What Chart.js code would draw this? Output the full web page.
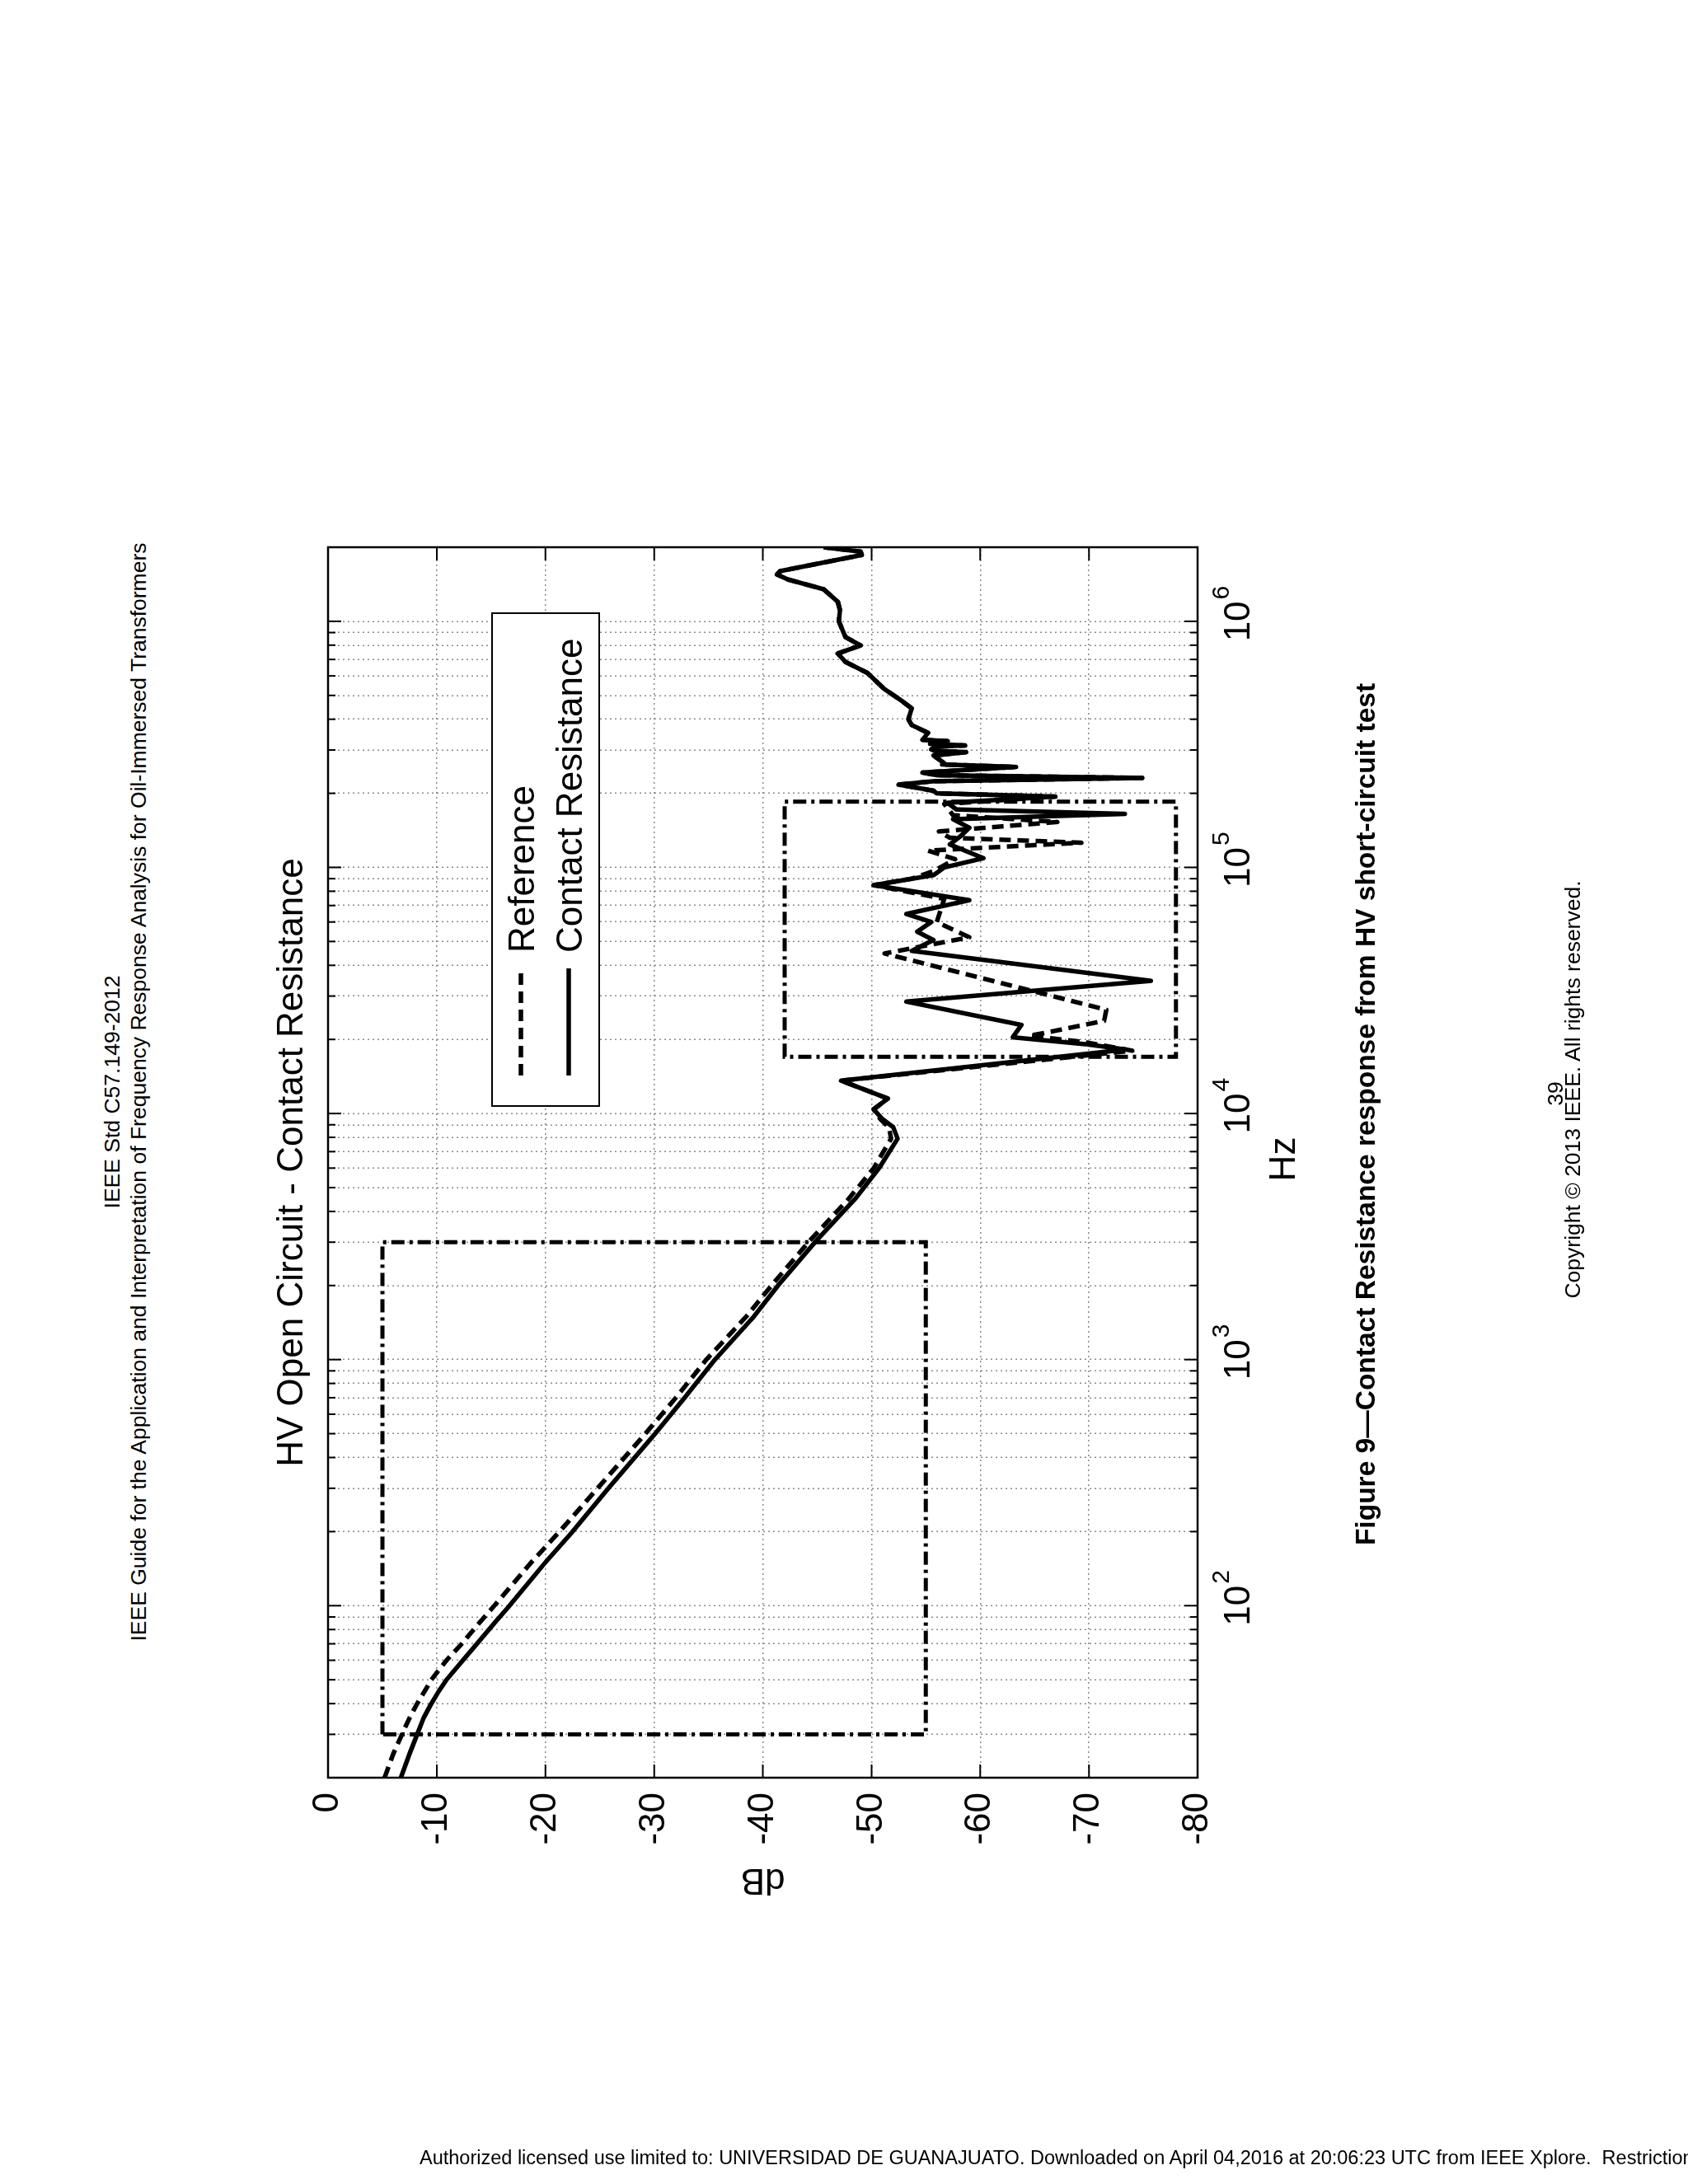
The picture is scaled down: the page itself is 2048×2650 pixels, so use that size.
<!DOCTYPE html>
<html>
<head>
<meta charset="utf-8">
<title>HV Open Circuit - Contact Resistance</title>
<script src="https://cdn.jsdelivr.net/npm/chart.js@4.4.1/dist/chart.umd.min.js"></script>
<style>
  html, body { margin: 0; padding: 0; background: #fff; }
  body { width: 2048px; height: 2650px; overflow: hidden; position: relative;
         font-family: "Liberation Sans", Arial, Helvetica, sans-serif; color: #000; }
  /* the scanned page is turned a quarter turn: everything below is laid out
     in the upright frame and rotated into place */
  #page { position: absolute; left: 0; top: 0; width: 2650px; height: 2048px;
          transform-origin: 0 0; transform: translateY(2650px) rotate(-90deg); }
  #chart-trend { position: absolute; left: 0; top: 0; }
  .txt { position: absolute; white-space: nowrap; line-height: 1; transform: translateX(-50%); }
  #hdr1 { left: 1325px; top: 122.6px; font-size: 26.5px; }
  #hdr2 { left: 1325px; top: 154.6px; font-size: 26.5px; }
  #caption { left: 1298px; top: 1639.6px; font-size: 33.5px; font-weight: bold; }
  #pageno { left: 1323px; top: 1873.6px; font-size: 26.5px; }
  #copy { left: 1328px; top: 1894.6px; font-size: 26.5px; }
  #footer { position: absolute; left: 509px; top: 2607px; font-size: 23.5px; line-height: 1; white-space: nowrap; }
</style>
</head>
<body>
<div id="page">
  <div class="txt" id="hdr1">IEEE Std C57.149-2012</div>
  <div class="txt" id="hdr2">IEEE Guide for the Application and Interpretation of Frequency Response Analysis for Oil-Immersed Transformers</div>
  <canvas id="chart-trend" width="2650" height="2048"></canvas>
  <div class="txt" id="caption">Figure 9—Contact Resistance response from HV short-circuit test</div>
  <div class="txt" id="pageno">39</div>
  <div class="txt" id="copy">Copyright © 2013 IEEE. All rights reserved.</div>
</div>
<div id="footer">Authorized licensed use limited to: UNIVERSIDAD DE GUANAJUATO. Downloaded on April 04,2016 at 20:06:23 UTC from IEEE Xplore.&nbsp; Restrictions apply.</div>

<script>
// --- data (Hz, dB) ---
const crFreq = [20, 25, 30, 35, 40, 45, 50, 60, 70, 85, 100, 150, 200, 300, 500, 700, 1000, 1500, 2000, 3000, 4500, 6000, 7900, 8800,
  9500, 10400, 11500, 13600, 18200, 19100, 20400, 22900, 28500, 34600, 45800, 50700, 54800, 60000, 64700, 73600,
  84700, 93000, 100000, 109000, 124000, 134000, 145000, 157000, 165000, 172000, 183000, 194000, 200000, 205000,
  217000, 224000, 231000, 237000, 243000, 256000, 262000, 265000, 285000, 294000, 298000, 302000, 310000, 313000, 318000, 326000,
  330000, 352000, 379000, 400000, 443000, 478000, 530000, 618000, 684000, 740000, 798000, 863000, 1000000, 1110000,
  1200000, 1350000, 1480000, 1550000, 1600000, 1860000, 1920000, 2000000];
const crDb = [-6.7, -7.5, -8.2, -8.8, -9.5, -10.2, -10.9, -12.4, -13.7, -15.3, -16.7, -20.0, -22.5, -25.8, -30.1, -32.8, -35.6, -39.2, -41.4, -44.8, -48.5, -50.7, -52.4, -52.0,
  -51.0, -50.2, -51.5, -47.2, -73.4, -69.8, -63.0, -63.8, -53.2, -75.7, -53.7, -55.7, -54.2, -55.5, -53.2, -59.0,
  -50.2, -55.7, -56.7, -60.3, -57.2, -58.2, -59.0, -57.5, -73.3, -57.8, -57.0, -66.9, -56.0, -55.7,
  -52.5, -55.7, -74.9, -56.0, -54.7, -63.3, -56.5, -56.7, -55.7, -58.7, -55.8, -55.5, -56.0, -58.6, -55.4, -57.0,
  -54.7, -55.2, -53.7, -53.4, -53.7, -52.7, -51.2, -49.6, -47.6, -46.9, -49.0, -47.6, -47.0, -47.1,
  -46.9, -45.6, -42.3, -41.3, -41.6, -49.1, -49.0, -45.6];

const refFreq = [20, 25, 30, 35, 40, 45, 50, 60, 70, 85, 100, 150, 200, 300, 500, 700, 1000, 1500, 2000, 3000, 4500, 6000, 7900, 8800,
  9500, 10400, 11500, 13600, 18000, 19500, 20700, 21200, 23800, 26400, 44700, 52000, 60000, 74500,
  84700, 90000, 96600, 108000, 117000, 126000, 132000, 140000, 153000, 163000, 181000, 194000, 200000, 205000,
  217000, 224000, 231000, 237000, 243000, 256000, 262000, 265000, 285000, 294000, 298000, 302000, 310000, 313000, 318000, 326000,
  330000, 352000, 379000, 400000, 443000, 478000, 530000, 618000, 684000, 740000, 798000, 863000, 1000000, 1110000,
  1200000, 1350000, 1480000, 1550000, 1600000, 1860000, 1920000, 2000000];
const refDb = [-5.2, -6.0, -6.8, -7.5, -8.2, -8.9, -9.5, -10.9, -12.3, -13.9, -15.3, -18.7, -21.3, -24.8, -29.2, -32.0, -34.8, -38.5, -40.8, -44.2, -47.9, -50.2, -51.8, -51.6,
  -50.8, -50.2, -51.5, -47.2, -74.0, -69.6, -64.5, -65.8, -71.4, -71.6, -51.2, -59.0, -56.0, -56.7,
  -50.2, -53.7, -55.7, -57.7, -55.2, -69.3, -57.2, -56.2, -67.1, -57.5, -56.7, -66.9, -56.0, -55.7,
  -52.5, -55.7, -74.9, -56.0, -54.7, -63.3, -56.5, -56.7, -55.7, -58.7, -55.8, -55.5, -56.0, -58.6, -55.4, -57.0,
  -54.7, -55.2, -53.7, -53.4, -53.7, -52.7, -51.2, -49.6, -47.6, -46.9, -49.0, -47.6, -47.0, -47.1,
  -46.9, -45.6, -42.3, -41.3, -41.6, -49.1, -49.0, -45.6];

// dash-dot highlight boxes (Hz / dB corners)
const boxFreqLo = [30, 17000];
const boxFreqHi = [3000, 185000];
const boxDbHi = [-5, -42];
const boxDbLo = [-55, -78];

// axis ticks
const freqTickValues = [1e2, 1e3, 1e4, 1e5, 1e6];
const freqTickExp = ['2', '3', '4', '5', '6'];
const dbMin = -80, dbMax = 0, dbStep = 10;
const freqMin = 20, freqMax = 2e6;

const seriesNames = ['Reference', 'Contact Resistance'];
const chartTitle = 'HV Open Circuit - Contact Resistance';
const xTitle = 'Hz';
const yTitle = 'dB';

const FONT = '"Liberation Sans", Arial, Helvetica, sans-serif';
const GRID = '#8a8a8a';

// minor + major grid positions for the log axis
const gridFreqs = [];
for (let e = 1; e <= 6; e++) {
  for (let m = 1; m <= 9; m++) {
    const v = m * Math.pow(10, e);
    if (v > freqMin && v < freqMax) gridFreqs.push(v);
  }
}
const isDecade = v => Math.abs(Math.log10(v) - Math.round(Math.log10(v))) < 1e-9;

const overlay = {
  id: 'overlay',
  afterDatasetsDraw(chart) {
    const ctx = chart.ctx;
    const xs = chart.scales.x, ys = chart.scales.y;
    const a = chart.chartArea;
    ctx.save();

    // dash-dot boxes
    ctx.strokeStyle = '#000';
    ctx.lineWidth = 5;
    ctx.setLineDash([16, 6, 4, 6]);
    boxFreqLo.forEach((f0, i) => {
      const x0 = xs.getPixelForValue(f0), x1 = xs.getPixelForValue(boxFreqHi[i]);
      const y0 = ys.getPixelForValue(boxDbHi[i]), y1 = ys.getPixelForValue(boxDbLo[i]);
      ctx.strokeRect(x0, y0, x1 - x0, y1 - y0);
    });
    ctx.setLineDash([]);

    // inward tick marks
    ctx.lineWidth = 2;
    gridFreqs.forEach(v => {
      const px = xs.getPixelForValue(v);
      const len = isDecade(v) ? 16 : 9;
      ctx.beginPath();
      ctx.moveTo(px, a.top); ctx.lineTo(px, a.top + len);
      ctx.moveTo(px, a.bottom); ctx.lineTo(px, a.bottom - len);
      ctx.stroke();
    });
    for (let d = dbMin + dbStep; d < dbMax; d += dbStep) {
      const py = ys.getPixelForValue(d);
      ctx.beginPath();
      ctx.moveTo(a.left, py); ctx.lineTo(a.left + 16, py);
      ctx.moveTo(a.right, py); ctx.lineTo(a.right - 16, py);
      ctx.stroke();
    }

    // frame
    ctx.lineWidth = 2.5;
    ctx.strokeRect(a.left, a.top, a.right - a.left, a.bottom - a.top);

    // legend
    ctx.fillStyle = '#fff';
    ctx.fillRect(1308, 597, 598, 130);
    ctx.lineWidth = 2;
    ctx.strokeRect(1308, 597, 598, 130);
    ctx.lineWidth = 5.5;
    ctx.setLineDash([14, 8]);
    ctx.beginPath(); ctx.moveTo(1345, 632); ctx.lineTo(1475, 632); ctx.stroke();
    ctx.setLineDash([]);
    ctx.beginPath(); ctx.moveTo(1345, 690); ctx.lineTo(1475, 690); ctx.stroke();
    ctx.fillStyle = '#000';
    ctx.font = '44px ' + FONT;
    ctx.textAlign = 'left';
    ctx.textBaseline = 'alphabetic';
    ctx.fillText(seriesNames[0], 1494, 648);
    ctx.fillText(seriesNames[1], 1494, 706);

    // frequency tick labels 10^n
    freqTickValues.forEach((v, i) => {
      const px = xs.getPixelForValue(v);
      ctx.font = '44px ' + FONT;
      const w = ctx.measureText('10').width;
      ctx.fillText('10', px - w / 2, 1516);
      ctx.font = '30px ' + FONT;
      ctx.fillText(freqTickExp[i], px + w / 2 + 2, 1491);
    });

    // titles
    ctx.font = '44px ' + FONT;
    ctx.textAlign = 'center';
    const cx = (a.left + a.right) / 2;
    ctx.fillText(chartTitle, cx, 367);
    ctx.fillText(xTitle, cx + 4, 1571);
    ctx.save();
    ctx.translate(382, (a.top + a.bottom) / 2);
    ctx.rotate(-Math.PI / 2);
    ctx.fillText(yTitle, 0, 0);
    ctx.restore();

    ctx.restore();
  }
};

const ctxTrend = document.getElementById('chart-trend');
const trendChart = new Chart(ctxTrend, {
  type: 'line',
  data: {
    datasets: [{
      label: seriesNames[0],
      data: refFreq.map((f, i) => ({ x: f, y: refDb[i] })),
      borderColor: '#000',
      borderWidth: 5.5,
      borderDash: [14, 8],
      borderJoinStyle: 'round',
      pointRadius: 0,
      tension: 0,
      fill: false
    }, {
      label: seriesNames[1],
      data: crFreq.map((f, i) => ({ x: f, y: crDb[i] })),
      borderColor: '#000',
      borderWidth: 5.5,
      borderJoinStyle: 'round',
      pointRadius: 0,
      tension: 0,
      fill: false
    }]
  },
  options: {
    responsive: false,
    animation: false,
    events: [],
    layout: { padding: { left: 373, right: 664, top: 398, bottom: 495 } },
    plugins: {
      legend: { display: false },
      tooltip: { enabled: false },
      title: { display: false }
    },
    scales: {
      x: {
        type: 'logarithmic',
        min: freqMin,
        max: freqMax,
        afterBuildTicks(scale) {
          scale.ticks = gridFreqs.map(v => ({ value: v, major: isDecade(v) }));
        },
        afterFit(scale) { scale.height = 100; scale.paddingLeft = 0; scale.paddingRight = 0; },
        ticks: { display: false },
        grid: { color: GRID, lineWidth: 1.5, drawTicks: false },
        border: { display: false, dash: [2, 4] }
      },
      y: {
        type: 'linear',
        min: dbMin,
        max: dbMax,
        afterFit(scale) { scale.width = 120; scale.paddingTop = 0; scale.paddingBottom = 0; },
        ticks: {
          stepSize: dbStep,
          color: '#000',
          padding: 18,
          font: { family: FONT, size: 44 },
          callback: v => String(v)
        },
        grid: {
          color: c => (c.tick && (c.tick.value === dbMin || c.tick.value === dbMax)) ? 'rgba(0,0,0,0)' : GRID,
          lineWidth: 1.5,
          drawTicks: false
        },
        border: { display: false, dash: [2, 4] }
      }
    }
  },
  plugins: [overlay]
});
</script>
</body>
</html>
